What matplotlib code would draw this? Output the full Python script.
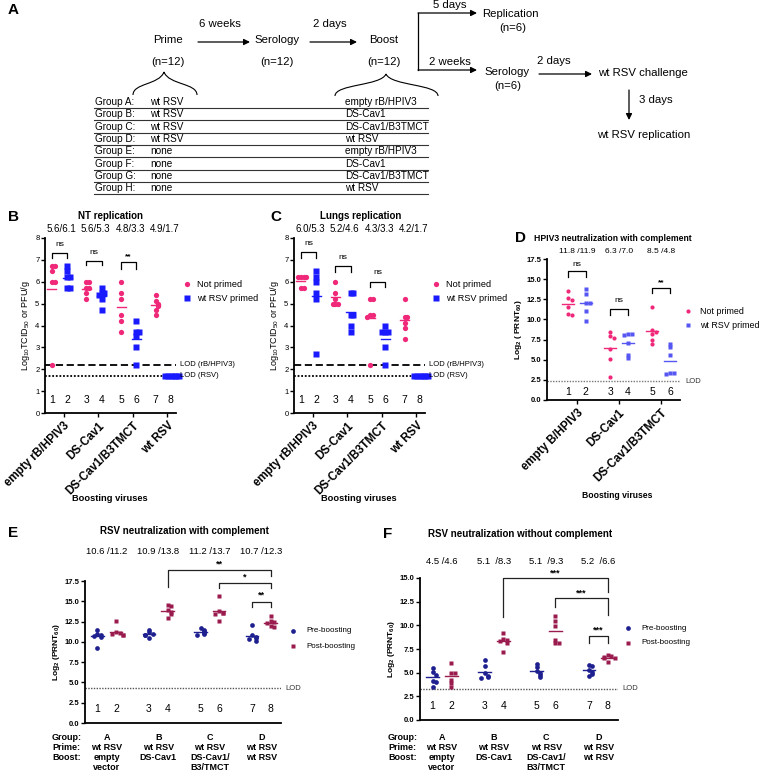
import numpy as np
import matplotlib.pyplot as plt
import matplotlib.transforms as mtransforms
from matplotlib.path import Path
from matplotlib.patches import PathPatch

plt.rcParams['font.family'] = ['Liberation Sans', 'DejaVu Sans']
plt.rcParams['mathtext.fontset'] = 'custom'
plt.rcParams['mathtext.rm'] = 'Liberation Sans'
plt.rcParams['mathtext.bf'] = 'Liberation Sans:bold'

PINK = '#f0287a'
BLUE = '#1a1aff'
BLUE_D = '#5656f2'
NAVY = '#1e2090'
MAROON = '#9a1b4e'

# ---- panel A table
table_groups = ['A', 'B', 'C', 'D', 'E', 'F', 'G', 'H']
table_prime = ['wt RSV'] * 4 + ['none'] * 4
table_boost = ['empty rB/HPIV3', 'DS-Cav1', 'DS-Cav1/B3TMCT', 'wt RSV'] * 2

# ---- panel B: NT replication
nt_viruses = ['empty rB/HPIV3', 'DS-Cav1', 'DS-Cav1/B3TMCT', 'wt RSV']
nt_not_primed = [[6.7, 6.7, 6.5, 6.0, 6.0, 2.2], [6.0, 6.0, 5.7, 5.7, 5.5, 5.2],
                 [6.0, 5.5, 5.2, 4.5, 4.2, 3.7], [5.4, 5.1, 5.0, 4.9, 4.7, 4.5]]
nt_primed = [[6.7, 6.5, 6.2, 6.2, 5.7, 5.7], [5.7, 5.5, 5.5, 5.4, 5.2, 4.7],
             [4.2, 3.7, 3.7, 3.5, 3.0, 2.2], [1.7, 1.7, 1.7, 1.7, 1.7, 1.7]]
nt_means = ['5.6/6.1', '5.6/5.3', '4.8/3.3', '4.9/1.7']

# ---- panel C: lungs replication
lung_not_primed = [[6.2, 6.2, 6.2, 6.2, 5.7, 5.7], [6.0, 5.5, 5.2, 5.0, 5.0, 5.0],
                   [5.2, 5.2, 4.5, 4.5, 4.4, 2.2], [5.2, 4.4, 4.4, 4.1, 3.9, 3.4]]
lung_primed = [[6.5, 6.2, 6.0, 5.5, 5.2, 2.7], [5.5, 5.5, 4.5, 4.5, 4.0, 3.7],
               [4.0, 3.7, 3.7, 3.7, 3.0, 2.2], [1.7, 1.7, 1.7, 1.7, 1.7, 1.7]]
lung_means = ['6.0/5.3', '5.2/4.6', '4.3/3.3', '4.2/1.7']

# ---- panel D: HPIV3 neutralization
hpiv_viruses = ['empty B/HPIV3', 'DS-Cav1', 'DS-Cav1/B3TMCT']
hpiv_not_primed = [[13.5, 12.6, 12.4, 11.6, 10.7, 10.5], [8.4, 8.0, 7.7, 6.3, 5.1, 2.9],
                   [11.6, 8.7, 8.5, 8.2, 7.4, 7.0]]
hpiv_primed = [[13.8, 13.1, 12.1, 12.1, 11.0, 9.8], [8.2, 8.2, 8.1, 7.1, 5.6, 5.2],
               [6.9, 6.6, 5.6, 3.4, 3.4, 3.2]]
hpiv_means = ['11.8 /11.9', '6.3 /7.0', '8.5 /4.8']

# ---- panels E/F: RSV neutralization
rsv_group_ids = ['A', 'B', 'C', 'D']
rsv_prime = ['wt RSV', 'wt RSV', 'wt RSV', 'wt RSV']
rsv_boost = ['empty\nvector', 'DS-Cav1', 'DS-Cav1/\nB3/TMCT', 'wt RSV']

withc_pre = [[11.5, 11.0, 10.9, 10.75, 10.6, 9.3], [11.5, 11.2, 11.0, 10.9, 10.8, 10.5],
             [11.7, 11.5, 11.3, 11.1, 11.0, 10.8], [12.1, 10.8, 10.6, 10.5, 10.3, 10.1]]
withc_post = [[12.6, 11.2, 11.1, 11.0, 10.9, 10.8], [14.6, 14.4, 13.9, 13.7, 13.4, 13.0],
              [15.6, 13.8, 13.6, 13.5, 13.4, 12.6], [13.2, 12.6, 12.4, 12.3, 12.0, 11.8]]
withc_means = ['10.6 /11.2', '10.9 /13.8', '11.2 /13.7', '10.7 /12.3']

noc_pre = [[5.5, 5.1, 4.8, 4.1, 4.0, 3.5], [6.3, 5.7, 5.0, 4.7, 4.5, 4.4],
           [5.9, 5.6, 5.2, 5.0, 4.8, 4.5], [5.8, 5.7, 5.3, 5.1, 4.9, 4.6]]
noc_post = [[6.0, 5.0, 5.0, 4.2, 3.9, 3.5], [9.2, 8.6, 8.5, 8.3, 8.1, 7.2],
            [11.0, 10.5, 9.9, 8.5, 8.1, 8.1], [6.9, 6.8, 6.7, 6.6, 6.5, 6.1]]
noc_means = ['4.5 /4.6', '5.1  /8.3', '5.1  /9.3', '5.2  /6.6']


fig = plt.figure(figsize=(7.6, 7.78), dpi=100)
cv = fig.add_axes([0, 0, 1, 1])
cv.set_xlim(0, 760)
cv.set_ylim(778, 0)
cv.axis('off')


def T(x, y, s, **kw):
    kw.setdefault('fontsize', 8.2)
    kw.setdefault('va', 'center')
    cv.text(x, y, s, **kw)


def arrow(x1, y1, x2, y2):
    cv.annotate('', xy=(x2, y2), xytext=(x1, y1),
                arrowprops=dict(arrowstyle='-|>', color='k', lw=0.9,
                                mutation_scale=9, shrinkA=0, shrinkB=0))


def brace(x1, x2, xt, ytop, ybot):
    verts = [(x1, ybot), (x1, ybot - 12), (xt - 5, ybot - 10), (xt, ytop),
             (xt + 5, ybot - 10), (x2, ybot - 12), (x2, ybot)]
    codes = [Path.MOVETO] + [Path.CURVE4] * 6
    cv.add_patch(PathPatch(Path(verts, codes), fc='none', ec='k', lw=0.8))


def px_ax(l, t, r, b):
    return fig.add_axes([l / 760, 1 - b / 778, (r - l) / 760, (b - t) / 778])


def style(ax, lw=1.3):
    for s in ['top', 'right']:
        ax.spines[s].set_visible(False)
    for s in ['left', 'bottom']:
        ax.spines[s].set_linewidth(lw)
    ax.tick_params(width=1.0, length=3, pad=1, labelsize=5.5)


def spread(vals, tol, step):
    offs = []
    for k, v in enumerate(vals):
        n = sum(abs(vals[j] - v) < tol for j in range(k))
        offs.append(((n + 1) // 2) * step * (1 if n % 2 else -1))
    return np.array(offs)


def draw_group(ax, x0, vals, color, marker, ms, tol, step, half):
    xs = x0 + spread(vals, tol, step)
    ax.plot(xs, vals, ls='none', marker=marker, color=color, ms=ms, mec='none',
            clip_on=False, zorder=3)
    m = np.mean(vals)
    ax.plot([x0 - half, x0 + half], [m, m], color=color, lw=1.0, zorder=2)


def bracket(ax, x1, x2, y, legl, legr, text, ty, fs=7, lw=0.9, color='k'):
    ax.plot([x1, x1, x2, x2], [legl, y, y, legr], color=color, lw=lw, clip_on=False)
    ax.text((x1 + x2) / 2, ty, text, ha='center', va='center', fontsize=fs,
            clip_on=False, weight='bold' if '*' in text else 'normal')


# ================= panel A =================
T(8, 10, 'A', fontsize=11, weight='bold')
T(168, 40, 'Prime', ha='center')
T(168, 62, '(n=12)', ha='center')
T(220, 24, '6 weeks', ha='center')
arrow(198, 42, 250, 42)
T(277, 40, 'Serology', ha='center')
T(277, 62, '(n=12)', ha='center')
T(330, 24, '2 days', ha='center')
arrow(310, 42, 357, 42)
T(384, 40, 'Boost', ha='center')
T(384, 62, '(n=12)', ha='center')

cv.plot([418, 418], [13, 70], color='k', lw=0.9)
arrow(418, 13, 477, 13)
arrow(418, 70, 477, 70)
T(450, 5, '5 days', ha='center')
T(482, 14, 'Replication')
T(513, 28, '(n=6)', ha='center')
T(450, 62, '2 weeks', ha='center')
T(484, 72, 'Serology')
T(508, 86, '(n=6)', ha='center')
T(554, 61, '2 days', ha='center')
arrow(539, 74, 592, 74)
T(598, 73, 'wt RSV challenge')
arrow(629, 90, 629, 120)
T(639, 100, '3 days')
T(597, 135, 'wt RSV replication')

brace(133, 197, 164, 72, 95)
brace(335, 438, 386, 74, 96)

for i, g in enumerate(table_groups):
    y = 102 + i * 12.3
    T(95, y, f'Group {g}:', fontsize=7.2)
    T(150, y, table_prime[i], fontsize=7.2)
    T(345, y, table_boost[i], fontsize=7.2)
    cv.plot([94, 428], [y + 6, y + 6], color='#333333', lw=0.8)


# ================= panels B and C =================
def replication_panel(left, not_primed, primed, means, title, brackets, title_x):
    ax = px_ax(left, 238, left + 131, 413)
    style(ax)
    off = 0.22
    for i in range(4):
        draw_group(ax, i - off, not_primed[i], PINK, 'o', 3.8, 0.1, 0.08, 0.13)
        draw_group(ax, i + off, primed[i], BLUE, 's', 3.8, 0.1, 0.08, 0.13)
        ax.text(i - off, 0.6, str(2 * i + 1), ha='center', va='center', fontsize=7.5)
        ax.text(i + off, 0.6, str(2 * i + 2), ha='center', va='center', fontsize=7.5)
        ax.text(i + 0.05, 8.42, means[i], ha='center', va='center', fontsize=7, clip_on=False)
    ax.axhline(2.2, ls=(0, (4, 2)), lw=1.3, color='k', zorder=1)
    ax.axhline(1.7, ls=(0, (1, 1)), lw=1.3, color='k', zorder=1)
    tr = mtransforms.blended_transform_factory(ax.transAxes, ax.transData)
    ax.text(1.03, 2.2, 'LOD (rB/HPIV3)', transform=tr, fontsize=5.5, va='center')
    ax.text(1.03, 1.7, 'LOD (RSV)', transform=tr, fontsize=5.5, va='center')
    ax.set_xlim(-0.42, 3.37)
    ax.set_ylim(0, 8)
    ax.set_yticks(range(9))
    ax.set_xticks(np.arange(4) + 0.12)
    ax.set_xticklabels(nt_viruses, rotation=45, ha='right', rotation_mode='anchor',
                       fontsize=8.3, weight='bold')
    ax.tick_params(axis='x', labelsize=8.3, pad=2)
    ax.set_ylabel('Log$_{10}$TCID$_{50}$ or PFU/g', fontsize=6.5, labelpad=2)
    for (i1, i2, y, ll, lr, t, ty) in brackets:
        bracket(ax, i1, i2, y, ll, lr, t, ty, fs=6)
    T(title_x, 216, title, fontsize=7, weight='bold', ha='center')
    T(left + 65, 498, 'Boosting viruses', fontsize=6.7, weight='bold', ha='center')
    lx = left + 142
    cv.plot(lx, 284, 'o', color=PINK, ms=3.8, mec='none')
    cv.plot(lx, 298, 's', color=BLUE, ms=3.8, mec='none')
    T(lx + 10, 284, 'Not primed', fontsize=6.6)
    T(lx + 10, 298, 'wt RSV primed', fontsize=6.6)
    return ax


T(8, 217, 'B', fontsize=11, weight='bold')
replication_panel(45, nt_not_primed, nt_primed, nt_means, 'NT replication',
                  [(-0.22, 0.22, 7.3, 7.1, 7.1, 'ns', 7.7),
                   (0.78, 1.22, 6.95, 6.75, 6.75, 'ns', 7.35),
                   (1.78, 2.22, 6.9, 6.6, 6.6, '**', 7.15)], 111)
T(270, 217, 'C', fontsize=11, weight='bold')
replication_panel(294, lung_not_primed, lung_primed, lung_means, 'Lungs replication',
                  [(-0.22, 0.22, 7.35, 7.1, 7.1, 'ns', 7.75),
                   (0.78, 1.22, 6.7, 6.45, 6.45, 'ns', 7.1),
                   (1.78, 2.22, 6.0, 5.75, 5.75, 'ns', 6.4)], 361)


# ================= panel D =================
axd = px_ax(547, 259, 680, 400)
style(axd)
for i in range(3):
    draw_group(axd, i - 0.21, hpiv_not_primed[i], PINK, 'o', 3.0, 0.3, 0.1, 0.14)
    draw_group(axd, i + 0.21, hpiv_primed[i], BLUE_D, 's', 3.0, 0.3, 0.1, 0.14)
    axd.text(i - 0.21, 0.95, str(2 * i + 1), ha='center', va='center', fontsize=7.5)
    axd.text(i + 0.21, 0.95, str(2 * i + 2), ha='center', va='center', fontsize=7.5)
    axd.text(i, 18.4, hpiv_means[i], ha='center', va='center', fontsize=6, clip_on=False)
axd.axhline(2.35, ls=(0, (1, 1)), lw=1.0, color='#777777', zorder=1)
axd.text(1.04, 2.35, 'LOD', fontsize=5.5, va='center', color='#333333',
         transform=mtransforms.blended_transform_factory(axd.transAxes, axd.transData))
axd.set_xlim(-0.71, 2.45)
axd.set_ylim(0, 17.5)
axd.set_yticks(np.arange(0, 17.6, 2.5))
axd.set_yticklabels([f'{v:.1f}' for v in np.arange(0, 17.6, 2.5)], weight='bold')
axd.set_xticks(range(3))
axd.set_xticklabels(hpiv_viruses, rotation=45, ha='right', rotation_mode='anchor',
                    fontsize=8.3, weight='bold')
axd.tick_params(axis='x', labelsize=8.3, pad=2)
axd.set_ylabel(r'Log$_{\mathbf{2}}$ ( PRNT$_{\mathbf{60}}$)', fontsize=6, weight='bold', labelpad=2)
bracket(axd, -0.21, 0.21, 16.0, 15.3, 15.3, 'ns', 16.8, fs=6)
bracket(axd, 0.79, 1.21, 11.35, 10.6, 10.6, 'ns', 12.3, fs=6)
bracket(axd, 1.79, 2.21, 13.9, 13.3, 13.3, '**', 14.6, fs=6)
T(515, 238, 'D', fontsize=11, weight='bold')
T(613, 238, 'HPIV3 neutralization with complement', fontsize=6.2, weight='bold', ha='center')
T(617, 495, 'Boosting viruses', fontsize=6.2, weight='bold', ha='center')
cv.plot(688, 311, 'o', color=PINK, ms=3.0, mec='none')
cv.plot(688, 325, 's', color=BLUE_D, ms=3.0, mec='none')
T(700, 311, 'Not primed', fontsize=6.4)
T(700, 325, 'wt RSV primed', fontsize=6.4)


# ================= panels E and F =================
def rsv_panel(left, right, top, bottom, ymax, pre, post, means, lod, num_y, brackets,
              title, title_xy, means_y, group_x, leg_x, leg_y):
    ax = px_ax(left, top, right, bottom)
    style(ax)
    off = 0.18
    for i in range(4):
        draw_group(ax, i - off, pre[i], NAVY, 'o', 3.4, 0.3, 0.07, 0.12)
        draw_group(ax, i + off, post[i], MAROON, 's', 3.4, 0.3, 0.07, 0.12)
        ax.text(i - off, num_y, str(2 * i + 1), ha='center', va='center', fontsize=7.5)
        ax.text(i + off, num_y, str(2 * i + 2), ha='center', va='center', fontsize=7.5)
    ax.axhline(lod, ls=(0, (1, 1)), lw=1.0, color='#555555', zorder=1)
    ax.text(1.02, lod, 'LOD', fontsize=5.5, va='center', color='#333333',
            transform=mtransforms.blended_transform_factory(ax.transAxes, ax.transData))
    ax.set_xlim(-0.42, 3.38)
    ax.set_ylim(0, ymax)
    ticks = np.arange(0, ymax + 0.1, 2.5)
    ax.set_yticks(ticks)
    ax.set_yticklabels([f'{v:.1f}' for v in ticks], weight='bold')
    ax.set_xticks([])
    ax.set_ylabel(r'Log$_{\mathbf{2}}$ (PRNT$_{\mathbf{60}}$)', fontsize=6, weight='bold', labelpad=2)
    for (i1, i2, y, ll, lr, t, ty) in brackets:
        bracket(ax, i1, i2, y, ll, lr, t, ty, fs=6.5, lw=0.9, color='#222222')
    T(title_xy[0], title_xy[1], title, fontsize=7, weight='bold', ha='center')
    tr = mtransforms.blended_transform_factory(ax.transData, cv.transData)
    for i in range(4):
        ax.text(i, means_y, means[i], transform=tr, ha='center', va='center', fontsize=6.8)
        lines = [rsv_group_ids[i], rsv_prime[i]] + rsv_boost[i].split('\n')
        for k, s in enumerate(lines):
            ax.text(i, 737 + k * 10.3, s, transform=tr, ha='center', va='center',
                    fontsize=6.5, weight='bold')
    for k, s in enumerate(['Group:', 'Prime:', 'Boost:']):
        T(group_x, 737 + k * 10.3, s, fontsize=6.5, weight='bold')
    cv.plot(leg_x, leg_y, 'o', color=NAVY, ms=3.4, mec='none')
    cv.plot(leg_x, leg_y + 15, 's', color=MAROON, ms=3.4, mec='none')
    T(leg_x + 13, leg_y, 'Pre-boosting', fontsize=5.8)
    T(leg_x + 13, leg_y + 15, 'Post-boosting', fontsize=5.8)
    return ax


T(8, 533, 'E', fontsize=11, weight='bold')
rsv_panel(85, 281, 581, 723, 17.5, withc_pre, withc_post, withc_means, 4.3, 1.7,
          [(1.18, 3.18, 18.9, 16.8, 18.1, '**', 19.6),
           (2.18, 3.18, 17.3, 16.6, 16.6, '*', 18.0),
           (2.82, 3.18, 14.9, 14.3, 14.3, '**', 15.8)],
          'RSV neutralization with complement', (184, 531), 552, 52, 293, 631)
T(383, 534, 'F', fontsize=11, weight='bold')
rsv_panel(420, 618, 578, 720, 15, noc_pre, noc_post, noc_means, 3.3, 1.5,
          [(1.18, 3.18, 14.96, 10.9, 13.55, '***', 15.55),
           (2.18, 3.18, 12.85, 11.97, 11.1, '***', 13.45),
           (2.82, 3.18, 8.87, 8.16, 8.1, '***', 9.5)],
          'RSV neutralization without complement', (520, 534), 561, 388, 628, 628)

fig.savefig('out.png', dpi=100)
